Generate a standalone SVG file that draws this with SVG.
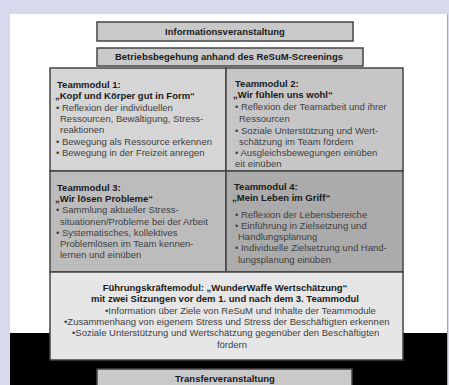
<svg xmlns="http://www.w3.org/2000/svg" width="449" height="385" viewBox="0 0 449 385">
<style>
.box{stroke:#444;stroke-width:1.5}
.h{font-family:"Liberation Sans",Arial,sans-serif;font-size:9.5px;font-weight:bold;fill:#1a1a1a}
.t{font-family:"Liberation Sans",Arial,sans-serif;font-size:9.5px;fill:#404040}
.c{text-anchor:middle}
</style>
<rect x="0" y="0" width="449" height="385" fill="#d9d9ee"/>
<rect x="10" y="14" width="437" height="320" fill="#ffffff"/>
<rect x="10" y="333" width="437" height="52" fill="#000000"/>
<line x1="447.5" y1="14" x2="447.5" y2="385" stroke="#aaa" stroke-width="1"/>

<g id="info">
<rect class="box" x="97" y="22" width="256" height="19" fill="#c9c9c9"/>
<text class="h c" x="225" y="35">Informationsveranstaltung</text>
</g>
<g id="betrieb">
<rect class="box" x="97" y="48" width="266" height="18" fill="#c9c9c9"/>
<text class="h c" x="229" y="60">Betriebsbegehung anhand des ReSuM-Screenings</text>
</g>

<g id="modul1">
<rect class="box" x="50" y="68" width="176" height="103" fill="#d5d5d5"/>
<text class="h" x="57" y="88">Teammodul 1:</text>
<text class="h" x="55" y="99">„Kopf und Körper gut in Form“</text>
<text class="t" x="56" y="111">• Reflexion der individuellen</text>
<text class="t" x="60" y="122">Ressourcen, Bewältigung, Stress-</text>
<text class="t" x="60" y="133">reaktionen</text>
<text class="t" x="56" y="145">• Bewegung als Ressource erkennen</text>
<text class="t" x="56" y="156">• Bewegung in der Freizeit anregen</text>
</g>
<g id="modul2">
<rect class="box" x="226" y="68" width="177" height="103" fill="#c6c6c6"/>
<text class="h" x="235" y="87">Teammodul 2:</text>
<text class="h" x="233" y="98">„Wir fühlen uns wohl“</text>
<text class="t" x="235" y="110">• Reflexion der Teamarbeit und ihrer</text>
<text class="t" x="239" y="122">Ressourcen</text>
<text class="t" x="235" y="134">• Soziale Unterstützung und Wert-</text>
<text class="t" x="239" y="145">schätzung im Team fördern</text>
<text class="t" x="235" y="156">• Ausgleichsbewegungen einüben</text>
<text class="t" x="235" y="167">eit einüben</text>
</g>
<g id="modul3">
<rect class="box" x="50" y="171" width="176" height="101" fill="#bcbcbc"/>
<text class="h" x="57" y="191">Teammodul 3:</text>
<text class="h" x="55" y="202">„Wir lösen Probleme“</text>
<text class="t" x="56" y="213">• Sammlung aktueller Stress-</text>
<text class="t" x="60" y="225">situationen/Probleme bei der Arbeit</text>
<text class="t" x="56" y="236">• Systematisches, kollektives</text>
<text class="t" x="60" y="247">Problemlösen im Team kennen-</text>
<text class="t" x="60" y="258">lernen und einüben</text>
</g>
<g id="modul4">
<rect class="box" x="226" y="171" width="177" height="101" fill="#ababab"/>
<text class="h" x="234" y="190">Teammodul 4:</text>
<text class="h" x="232" y="201">„Mein Leben im Griff“</text>
<text class="t" x="235" y="218">• Reflexion der Lebensbereiche</text>
<text class="t" x="235" y="229">• Einführung in Zielsetzung und</text>
<text class="t" x="238" y="240">Handlungsplanung</text>
<text class="t" x="235" y="251">• Individuelle Zielsetzung und Hand-</text>
<text class="t" x="238" y="263">lungsplanung einüben</text>
</g>
<g id="fuehrung">
<rect class="box" x="50" y="272" width="353" height="88" fill="#e6e6e6"/>
<text class="h c" x="225" y="291">Führungskräftemodul: „WunderWaffe Wertschätzung“</text>
<text class="h c" x="225" y="302">mit zwei Sitzungen vor dem 1. und nach dem 3. Teammodul</text>
<text class="t" x="105" y="314">•Information über Ziele von ReSuM und Inhalte der Teammodule</text>
<text class="t" x="64" y="325">•Zusammenhang von eigenem Stress und Stress der Beschäftigten erkennen</text>
<text class="t" x="72" y="336">•Soziale Unterstützung und Wertschätzung gegenüber den Beschäftigten</text>
<text class="t c" x="232" y="348">fördern</text>
</g>
<g id="transfer">
<rect class="box" x="97" y="369" width="255" height="20" fill="#c9c9c9"/>
<text class="h c" x="225" y="382">Transferveranstaltung</text>
</g>
<g id="connectors"></g>
</svg>
